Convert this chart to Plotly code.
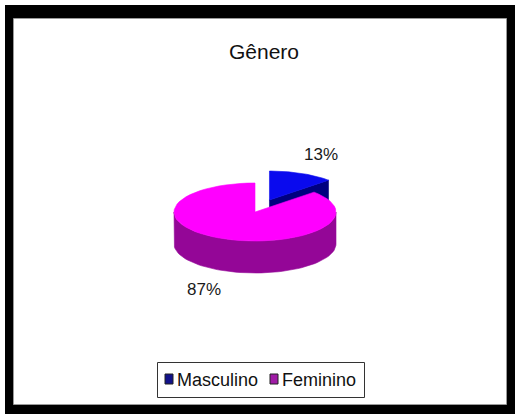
import numpy as np
import plotly.graph_objects as go

# Data
title_text = "Gênero"
categories = ["Masculino", "Feminino"]
percent = [13, 87]

# Styling
top_colors = ["#0A0AEE", "#FF00FF"]
side_colors = ["#000080", "#940697"]
legend_colors = ["#12128A", "#A01CA6"]
explode = [0.45, 0.0]
FONT = "Liberation Sans, Arial, sans-serif"

W, H = 515, 414
cx, cy = 255, 212          # centre of the pie's top face (px)
rx, ry = 81, 29            # ellipse radii of the tilted pie
depth = 32                 # thickness of the 3D pie


def arc(theta0, theta1, ox, oy, dz=0.0, n=60):
    t = np.radians(np.linspace(theta0, theta1, n))
    return ox + rx * np.sin(t), oy - ry * np.cos(t) + dz


fig = go.Figure()

total = float(sum(percent))
starts = np.concatenate([[0.0], np.cumsum(percent)[:-1]]) / total * 360.0
ends = np.cumsum(percent) / total * 360.0

slices = []
for i, v in enumerate(percent):
    a0, a1 = starts[i], ends[i]
    mid = np.radians((a0 + a1) / 2)
    ox = cx + explode[i] * rx * np.sin(mid)
    oy = cy - explode[i] * ry * np.cos(mid)
    slices.append((i, a0, a1, mid, ox, oy))

# paint back slices first
slices.sort(key=lambda s: -np.cos(s[3]))

annotations = []
for i, a0, a1, mid, ox, oy in slices:
    polys = []
    # radial faces that turn toward the viewer
    for a, visible in ((a0, np.sin(np.radians(a0)) < -1e-6),
                       (a1, np.sin(np.radians(a1)) > 1e-6)):
        if visible:
            px, py = arc(a, a, ox, oy, n=1)
            polys.append(([ox, px[0], px[0], ox, ox],
                          [oy, py[0], py[0] + depth, oy + depth, oy]))
    # outer wall on the front half
    w0, w1 = max(a0, 90.0), min(a1, 270.0)
    if w1 > w0:
        tx, ty = arc(w0, w1, ox, oy)
        bx, by = arc(w1, w0, ox, oy, dz=depth)
        polys.append((np.concatenate([tx, bx, tx[:1]]),
                      np.concatenate([ty, by, ty[:1]])))
    for px, py in polys:
        fig.add_trace(go.Scatter(
            x=list(px), y=list(py), mode="lines", fill="toself",
            fillcolor=side_colors[i], line=dict(width=0.6, color=side_colors[i]),
            hoverinfo="skip", showlegend=False))
    # top face
    tx, ty = arc(a0, a1, ox, oy)
    fig.add_trace(go.Scatter(
        x=[ox] + list(tx) + [ox], y=[oy] + list(ty) + [oy],
        mode="lines", fill="toself", fillcolor=top_colors[i],
        line=dict(width=0.6, color=top_colors[i]),
        name=categories[i], hoverinfo="skip", showlegend=False))

    # percentage label outside the slice
    lx = ox + 1.6 * rx * np.sin(mid)
    ly = oy - 1.7 * ry * np.cos(mid) + (depth if np.cos(mid) < 0 else 0)
    annotations.append(dict(x=lx, y=ly, text=f"{percent[i]}%", showarrow=False,
                            xanchor="center", yanchor="middle",
                            font=dict(family=FONT, size=17, color="#1a1a1a")))

# Title
annotations.append(dict(x=W / 2 + 6, y=51, text=title_text, showarrow=False,
                        xanchor="center", yanchor="middle",
                        font=dict(family=FONT, size=21, color="#111111")))

shapes = [
    # black outer frame and white chart area
    dict(type="rect", x0=5, y0=5, x1=W, y1=H, fillcolor="#000000",
         line=dict(width=0), layer="below"),
    dict(type="rect", x0=13.5, y0=18.5, x1=506.5, y1=404.5, fillcolor="#FFFFFF",
         line=dict(width=1, color="#9a9a9a"), layer="below"),
    # legend box
    dict(type="rect", x0=157.5, y0=362.5, x1=364.5, y1=397.5, fillcolor="#FFFFFF",
         line=dict(width=1, color="#333333"), layer="below"),
]

# Legend keys and labels
legend_x = [165, 270]
for i, name in enumerate(categories):
    shapes.append(dict(type="rect", x0=legend_x[i], y0=374, x1=legend_x[i] + 8, y1=384,
                       fillcolor=legend_colors[i], line=dict(width=1, color="#222222"),
                       layer="above"))
    annotations.append(dict(x=legend_x[i] + 10, y=379.5, text=name, showarrow=False,
                            xanchor="left", yanchor="middle",
                            font=dict(family=FONT, size=18, color="#111111")))

fig.update_layout(
    width=W, height=H,
    margin=dict(l=0, r=0, t=0, b=0),
    paper_bgcolor="#FFFFFF", plot_bgcolor="rgba(0,0,0,0)",
    xaxis=dict(range=[0, W], visible=False, fixedrange=True),
    yaxis=dict(range=[H, 0], visible=False, fixedrange=True),
    shapes=shapes, annotations=annotations, showlegend=False,
)

fig.write_html("out.html")
